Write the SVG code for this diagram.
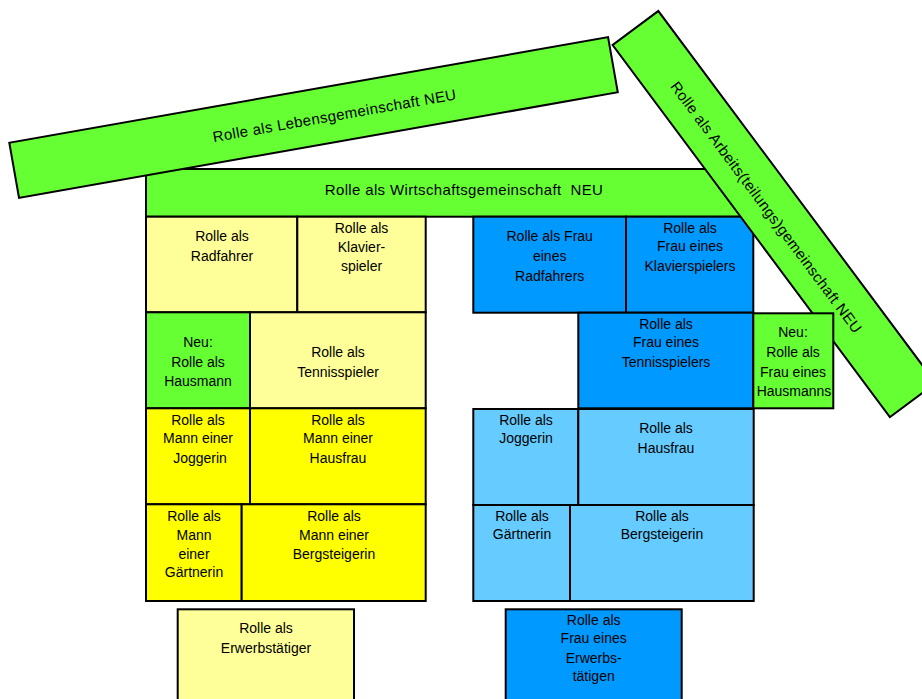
<svg xmlns="http://www.w3.org/2000/svg" width="922" height="699" viewBox="0 0 922 699">
<style>
rect{stroke:#000;stroke-width:2}
.g{fill:#66FF33}.ly{fill:#FFFF99}.y{fill:#FFFF00}.b{fill:#0099FF}.lb{fill:#66CCFF}
text{font-family:"Liberation Sans",Arial,sans-serif;font-size:14px;text-anchor:middle;fill:#000}
.big{font-size:15px;letter-spacing:0.35px}
</style>
<g id="wirtschaft">
<rect class="g" x="146" y="169" width="608" height="47.7"/>
<text class="big" x="464" y="195">Rolle als Wirtschaftsgemeinschaft&#160; NEU</text>
</g>
<g id="lebens" transform="translate(9.3,142.7) rotate(-10)">
<rect class="g" x="0" y="0" width="608" height="56"/>
<text class="big" x="325" y="35">Rolle als Lebensgemeinschaft NEU</text>
</g>
<g id="radfahrer">
<rect class="ly" x="146" y="216.7" width="151.3" height="95.6"/>
<text x="222" y="241">Rolle als</text><text x="222" y="261">Radfahrer</text>
</g>
<g id="klavierspieler">
<rect class="ly" x="297.3" y="216.7" width="128.4" height="95.6"/>
<text x="361.5" y="233">Rolle als</text><text x="361.5" y="252">Klavier-</text><text x="361.5" y="271">spieler</text>
</g>
<g id="hausmann">
<rect class="g" x="146" y="312.3" width="104" height="96"/>
<text x="198" y="347">Neu:</text><text x="198" y="367">Rolle als</text><text x="198" y="386">Hausmann</text>
</g>
<g id="tennisspieler">
<rect class="ly" x="250" y="312.3" width="175.7" height="96"/>
<text x="338" y="357">Rolle als</text><text x="338" y="377">Tennisspieler</text>
</g>
<g id="mann-joggerin">
<rect class="y" x="146" y="408.3" width="104" height="96"/>
<text x="198" y="425">Rolle als</text><text x="198" y="443">Mann einer</text><text x="200" y="463">Joggerin</text>
</g>
<g id="mann-hausfrau">
<rect class="y" x="250" y="408.3" width="175.7" height="96"/>
<text x="338" y="425">Rolle als</text><text x="338" y="443">Mann einer</text><text x="338" y="463">Hausfrau</text>
</g>
<g id="mann-gaertnerin">
<rect class="y" x="146" y="504.3" width="95.7" height="96.7"/>
<text x="194" y="521">Rolle als</text><text x="194" y="540">Mann</text><text x="194" y="559">einer</text><text x="194" y="577">Gärtnerin</text>
</g>
<g id="mann-bergsteigerin">
<rect class="y" x="241.7" y="504.3" width="184" height="96.7"/>
<text x="334" y="521">Rolle als</text><text x="334" y="540">Mann einer</text><text x="334" y="559">Bergsteigerin</text>
</g>
<g id="erwerbstaetiger">
<rect class="ly" x="177.7" y="609.3" width="176.3" height="100"/>
<text x="266" y="633">Rolle als</text><text x="266" y="653">Erwerbstätiger</text>
</g>
<g id="frau-radfahrer">
<rect class="b" x="473.3" y="216.7" width="152.7" height="96"/>
<text x="549.7" y="241">Rolle als Frau</text><text x="549.7" y="261">eines</text><text x="549.7" y="281">Radfahrers</text>
</g>
<g id="frau-klavierspieler">
<rect class="b" x="626" y="216.7" width="127.3" height="96"/>
<text x="690" y="233">Rolle als</text><text x="690" y="251">Frau eines</text><text x="690" y="271">Klavierspielers</text>
</g>
<g id="frau-tennisspieler">
<rect class="b" x="578.3" y="312.7" width="175" height="95.6"/>
<text x="666" y="329">Rolle als</text><text x="666" y="347">Frau eines</text><text x="666" y="367">Tennisspielers</text>
</g>
<g id="joggerin">
<rect class="lb" x="473.3" y="409" width="105" height="96"/>
<text x="526" y="425">Rolle als</text><text x="526" y="443">Joggerin</text>
</g>
<g id="hausfrau">
<rect class="lb" x="578.3" y="409" width="175.4" height="96"/>
<text x="666" y="433">Rolle als</text><text x="666" y="453">Hausfrau</text>
</g>
<g id="gaertnerin">
<rect class="lb" x="473.3" y="505" width="96.7" height="96"/>
<text x="522" y="521">Rolle als</text><text x="522" y="539">Gärtnerin</text>
</g>
<g id="bergsteigerin">
<rect class="lb" x="570" y="505" width="183.7" height="96"/>
<text x="662" y="521">Rolle als</text><text x="662" y="539">Bergsteigerin</text>
</g>
<g id="frau-erwerbstaetigen">
<rect class="b" x="505.7" y="609.3" width="176" height="100"/>
<text x="593.7" y="625">Rolle als</text><text x="593.7" y="643">Frau eines</text><text x="593.7" y="663">Erwerbs-</text><text x="593.7" y="681">tätigen</text>
</g>
<g id="arbeits" transform="translate(658.3,11) rotate(53.3)">
<rect class="g" x="0" y="0" width="464" height="57"/>
<text class="big" x="222" y="36">Rolle als Arbeits(teilungs)gemeinschaft NEU</text>
</g>
<g id="frau-hausmann">
<rect class="g" x="753.3" y="313.3" width="80" height="95"/>
<text x="793" y="337">Neu:</text><text x="793" y="357">Rolle als</text><text x="793" y="377">Frau eines</text><text x="794" y="396">Hausmanns</text>
</g>
<g id="connectors"></g>
</svg>
